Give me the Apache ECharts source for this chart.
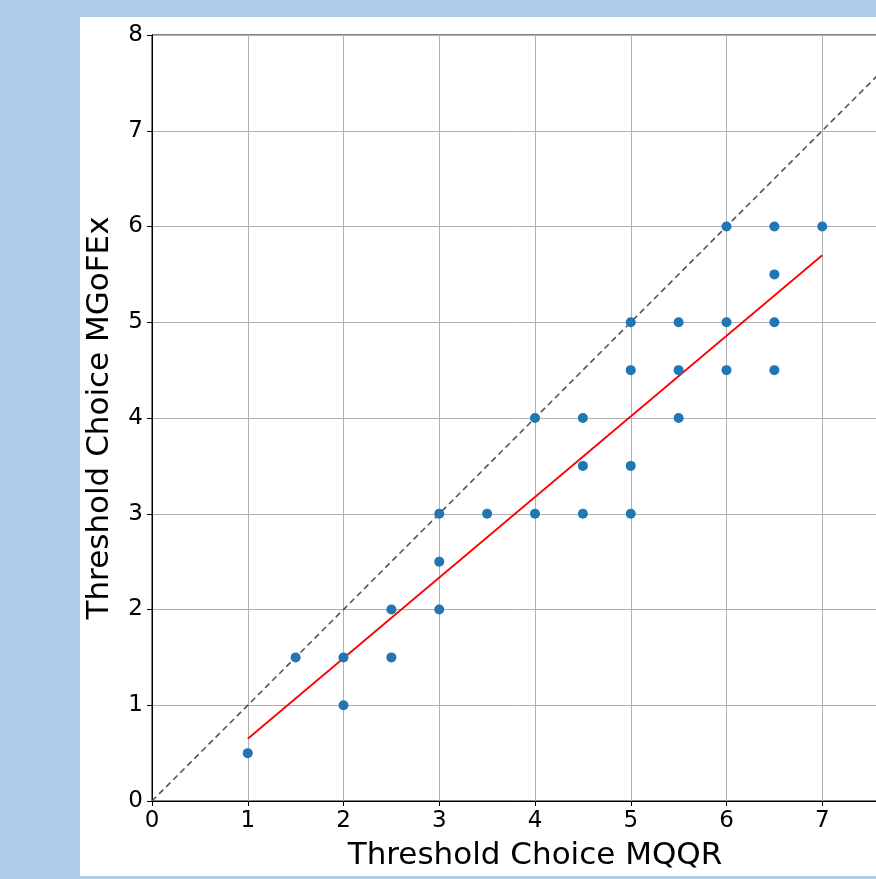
<!DOCTYPE html>
<html>
<head>
<meta charset="utf-8">
<script src="https://cdn.jsdelivr.net/npm/echarts@6/dist/echarts.min.js"></script>
<style>
  html, body { margin: 0; padding: 0; }
  body { width: 876px; height: 879px; background: #aecde9; position: relative; overflow: hidden; }
  #chart { position: absolute; left: 80px; top: 17px; width: 796px; height: 859px; background: #ffffff; }
</style>
</head>
<body>
<div id="chart"></div>
<script>
// threshold choices (MQQR, MGoFEx)
const mqqr   = [1, 1.5, 2, 2, 2.5, 2.5, 3, 3, 3, 3.5, 4, 4, 4.5, 4.5, 4.5, 5, 5, 5, 5, 5.5, 5.5, 5.5, 6, 6, 6, 6.5, 6.5, 6.5, 6.5, 7];
const mgofex = [0.5, 1.5, 1.5, 1, 2, 1.5, 3, 2.5, 2, 3, 4, 3, 4, 3.5, 3, 5, 4.5, 3.5, 3, 5, 4.5, 4, 6, 5, 4.5, 6, 5.5, 5, 4.5, 6];

// fitted line end points and identity line
const fitX = [1, 7];
const fitY = [0.65, 5.7];
const diagX = [0, 8];
const diagY = [0, 8];

const axisTicks = [0, 1, 2, 3, 4, 5, 6, 7, 8];

const font = 'DejaVu Sans';
const chart = echarts.init(document.getElementById('chart'));

const axisCommon = {
    type: 'value',
    min: axisTicks[0],
    max: axisTicks[axisTicks.length - 1],
    interval: 1,
    nameLocation: 'middle',
    nameTextStyle: { fontFamily: font, fontSize: 31, color: '#000' },
    axisLine: { show: true, onZero: false, lineStyle: { color: '#000', width: 1 } },
    axisTick: { show: true, length: 5, lineStyle: { color: '#000' } },
    axisLabel: { fontFamily: font, fontSize: 23, color: '#000', margin: 9 },
    splitLine: { show: true, lineStyle: { color: '#b0b0b0', width: 1 } }
};

chart.setOption({
    animation: false,
    grid: {
        left: 72, top: 18, width: 766, height: 766,
        outerBoundsMode: 'none', containLabel: false,
        show: true, borderColor: '#000', borderWidth: 1, backgroundColor: 'transparent'
    },
    xAxis: Object.assign({}, axisCommon, { name: 'Threshold Choice MQQR', nameGap: 39 }),
    yAxis: Object.assign({}, axisCommon, { name: 'Threshold Choice MGoFEx', nameGap: 37 }),
    series: [
        {
            type: 'line',
            data: diagX.map((x, i) => [x, diagY[i]]),
            showSymbol: false,
            lineStyle: { color: '#555555', width: 1.6, type: [6, 4] },
            z: 2
        },
        {
            type: 'line',
            data: fitX.map((x, i) => [x, fitY[i]]),
            showSymbol: false,
            lineStyle: { color: '#ff0000', width: 1.8 },
            z: 3
        },
        {
            type: 'scatter',
            data: mqqr.map((x, i) => [x, mgofex[i]]),
            symbolSize: 10,
            itemStyle: { color: '#1f77b4', opacity: 1 },
            z: 4
        }
    ]
});
</script>
</body>
</html>
